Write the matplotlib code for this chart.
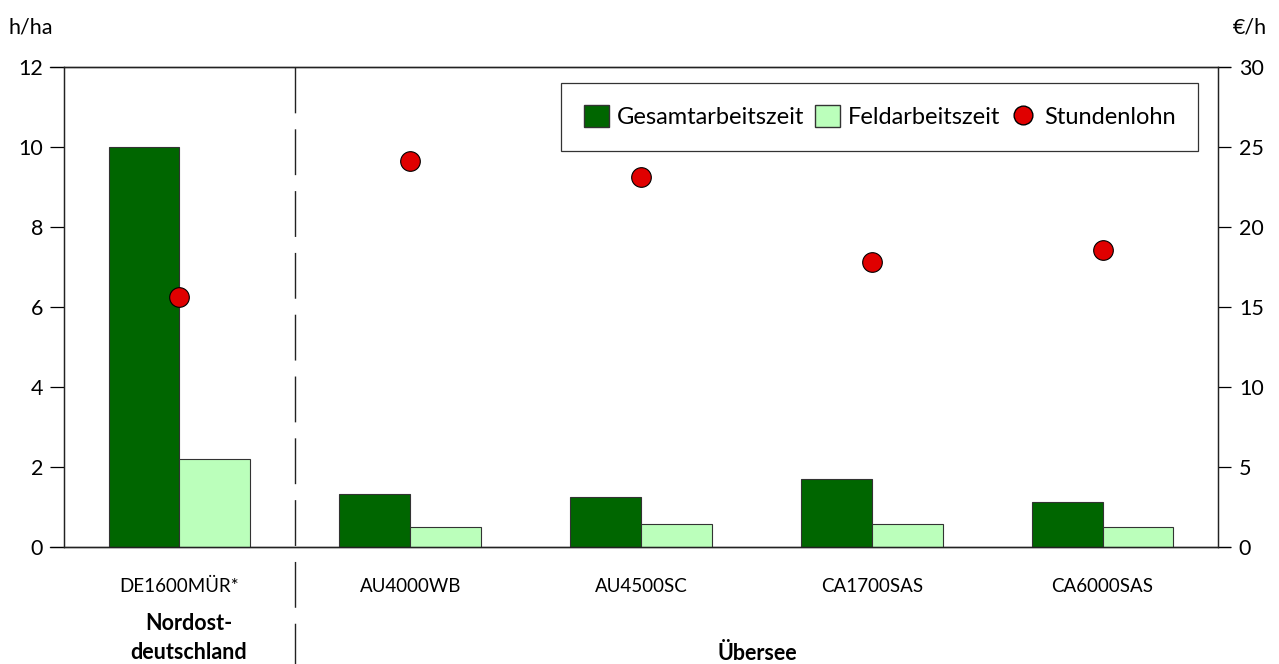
import matplotlib
matplotlib.use("Agg")
import matplotlib.pyplot as plt
from matplotlib.patches import Patch
from matplotlib.lines import Line2D
import numpy as np

plt.rcParams['font.family'] = ['Lato', 'DejaVu Sans']

categories = ["DE1600MÜR*", "AU4000WB", "AU4500SC", "CA1700SAS", "CA6000SAS"]
gesamt = [10.0, 1.32, 1.24, 1.71, 1.12]
feld = [2.2, 0.5, 0.57, 0.57, 0.5]
lohn = [15.6, 24.1, 23.1, 17.8, 18.55]
left_ticks = [0, 2, 4, 6, 8, 10, 12]
right_ticks = [0, 5, 10, 15, 20, 25, 30]
group_labels = ["Nordost-\ndeutschland", "Übersee"]

dark = "#006600"
light = "#BBFFBB"
red = "#E00000"

fig = plt.figure(figsize=(12.79, 6.64), dpi=100)
ax = fig.add_axes([64/1279, 117/664, 1154/1279, 480/664])
ax2 = ax.twinx()

x = np.arange(len(categories))
w = 0.307
ax.bar(x - w/2, gesamt, w, color=dark, edgecolor="#333333", linewidth=0.8, zorder=2)
ax.bar(x + w/2, feld, w, color=light, edgecolor="#333333", linewidth=0.8, zorder=2)
ax2.scatter(x, lohn, s=200, color=red, edgecolor="black", linewidth=0.8, zorder=3)

ax.set_xlim(-0.5, len(categories) - 0.5)
ax.set_ylim(0, 12)
ax2.set_ylim(0, 30)
ax.set_yticks(left_ticks)
ax2.set_yticks(right_ticks)
ax.set_xticks(x)
ax.set_xticklabels(categories, fontsize=13.5)
ax.tick_params(axis='x', length=0, pad=22)
ax.tick_params(axis='y', direction='out', length=10, width=0.9, labelsize=15.5, pad=5)
ax2.tick_params(axis='y', direction='out', length=9, width=0.9, labelsize=15.5, pad=6)

for a in (ax, ax2):
    for s in a.spines.values():
        s.set_linewidth(0.9)
        s.set_color("#222222")

# top and bottom lines extending over tick area
for yv in (0, 12):
    ax.plot([-0.5 - 14/230.8, 4.5 + 12/230.8], [yv, yv], color="#222222", lw=0.9, clip_on=False, zorder=1)

# dashed separator
ax.plot([0.5, 0.5], [1.0, -0.25], transform=ax.get_xaxis_transform(), color="#222222",
        lw=1, linestyle=(0, (33, 11.5)), clip_on=False)

fig.text(8/1279, 1 - 28/664, "h/ha", fontsize=15.5, va="center", ha="left")
fig.text(1267/1279, 1 - 28/664, "€/h", fontsize=15.5, va="center", ha="right")

fig.text(189/1279, 1 - 638/664, group_labels[0], fontsize=15.5, fontweight="bold",
         ha="center", va="center", linespacing=1.5)
fig.text(757/1279, 1 - 653/664, group_labels[1], fontsize=15.5, fontweight="bold",
         ha="center", va="center")

handles = [Patch(facecolor=dark, edgecolor="#333333", label="Gesamtarbeitszeit"),
           Patch(facecolor=light, edgecolor="#333333", label="Feldarbeitszeit"),
           Line2D([], [], marker='o', linestyle='None', markersize=13.5, markerfacecolor=red,
                  markeredgecolor='black', label="Stundenlohn")]
leg = ax.legend(handles=handles, ncol=3, loc="upper right", bbox_to_anchor=(0.9827, 0.9667),
                borderaxespad=0, fontsize=17, frameon=True, fancybox=False,
                handlelength=1.05, handleheight=1.05, handletextpad=0.35, columnspacing=0.45,
                borderpad=0.95)
leg.get_frame().set_edgecolor("black")
leg.get_frame().set_linewidth(0.9)
leg.set_zorder(5)

fig.savefig("out.png", dpi=100)
